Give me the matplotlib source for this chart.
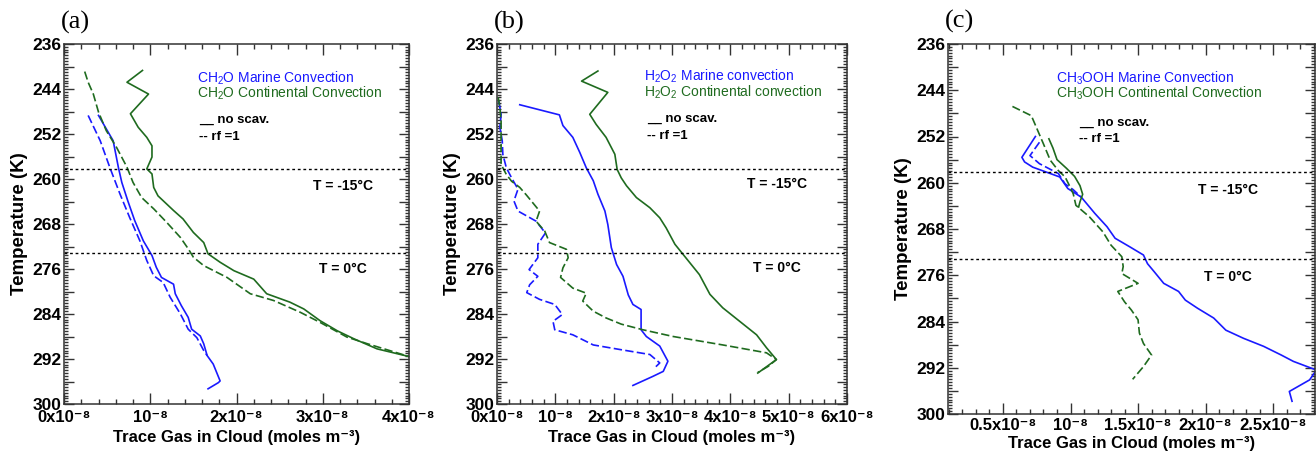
import matplotlib
matplotlib.use("Agg")
import matplotlib.pyplot as plt
from matplotlib.ticker import MultipleLocator, FixedLocator, FixedFormatter

plt.rcParams["font.family"] = ["Liberation Sans", "DejaVu Sans"]
plt.rcParams["font.weight"] = "bold"
plt.rcParams["mathtext.default"] = "regular"
plt.rcParams["axes.unicode_minus"] = False

BLUE = "#1a1aff"
GREEN = "#1f6b1f"

# concentrations are in units of 1e-8 moles m-3, temperatures in K
# panel (a) CH2O
a_mar_x = [0.40, 0.57, 0.63, 0.67, 0.74, 0.82, 0.92, 1.02, 1.07, 1.13, 1.27, 1.29, 1.36, 1.44,
           1.48, 1.58, 1.62, 1.66, 1.73, 1.81, 1.79, 1.67]
a_mar_T = [248.7, 253.2, 257.9, 260.6, 263.9, 267.4, 271.0, 273.6, 275.7, 277.5, 278.7, 280.4, 282.5, 284.6,
           286.7, 287.9, 289.3, 291.4, 292.9, 295.9, 296.2, 297.3]
a_mar_rf_x = [0.28, 0.42, 0.53, 0.65, 0.76, 0.88, 0.96, 1.04, 1.15, 1.23, 1.35, 1.44, 1.54, 1.62, 1.66]
a_mar_rf_T = [248.7, 253.2, 257.9, 262.7, 266.8, 271.0, 274.5, 277.2, 278.4, 281.0, 284.0, 286.7, 288.2, 290.5, 291.4]
a_con_x = [0.91, 0.73, 0.98, 0.77, 0.86, 0.96, 1.02, 1.02, 0.96, 1.02, 1.04, 1.09, 1.27, 1.38, 1.50,
           1.62, 1.67, 1.81, 1.97, 2.20, 2.35, 2.62, 2.78, 2.97, 3.17, 3.36, 3.63, 4.01, 4.20]
a_con_T = [240.7, 242.8, 244.9, 248.4, 250.8, 252.6, 254.1, 256.1, 258.2, 259.1, 261.5, 263.0, 265.6, 267.1, 269.5,
           271.3, 273.3, 274.8, 276.3, 277.8, 280.4, 281.9, 283.1, 285.2, 287.0, 288.4, 290.2, 291.6, 292.3]
a_con_rf_x = [0.24, 0.28, 0.34, 0.40, 0.49, 0.61, 0.73, 0.80, 0.90, 1.04, 1.19, 1.35, 1.44, 1.50, 1.62,
              1.89, 2.16, 2.43, 2.74, 2.97, 3.28, 3.52, 4.01, 4.20]
a_con_rf_T = [240.9, 242.8, 244.9, 248.1, 251.4, 254.4, 257.9, 260.6, 263.3, 265.3, 267.7, 270.4, 272.4, 273.9, 275.4,
              277.5, 280.4, 281.6, 283.7, 285.5, 288.1, 289.3, 291.6, 292.3]

# panel (b) H2O2
b_mar_x = [0.39, 1.07, 1.13, 1.30, 1.42, 1.53, 1.65, 1.73, 1.85, 1.90, 1.96, 2.05, 2.16, 2.25, 2.33,
           2.47, 2.47, 2.56, 2.79, 2.93, 2.85, 2.67, 2.33]
b_mar_T = [246.8, 248.6, 250.5, 252.6, 255.3, 258.0, 260.3, 262.7, 265.7, 268.1, 272.2, 275.2, 277.3, 280.6, 282.3,
           283.2, 286.8, 288.0, 289.7, 292.4, 294.2, 295.1, 296.7]
b_mar_rf_x = [0.03, 0.07, 0.05, 0.09, 0.10, 0.16, 0.25, 0.36, 0.29, 0.36, 0.67, 0.83, 0.70, 0.70, 0.55,
              0.70, 0.56, 0.51, 0.73, 0.99, 1.12, 0.96, 0.99, 1.30, 1.65, 2.10, 2.62, 2.79, 2.70]
b_mar_rf_T = [246.1, 248.5, 250.8, 253.2, 255.6, 258.0, 259.8, 261.8, 263.9, 265.7, 267.5, 269.6, 271.6, 274.0, 276.1,
              277.3, 278.8, 280.2, 281.4, 282.3, 284.1, 285.3, 286.8, 287.7, 289.5, 290.3, 291.2, 292.7, 293.6]
b_con_x = [1.73, 1.45, 1.90, 1.59, 1.70, 1.87, 2.02, 2.06, 2.13, 2.22, 2.39, 2.62, 2.79, 2.90, 3.05,
           3.19, 3.47, 3.65, 3.87, 4.16, 4.45, 4.62, 4.79, 4.67, 4.47]
b_con_T = [240.8, 242.6, 244.6, 248.5, 250.3, 252.6, 255.6, 258.3, 259.8, 261.2, 263.3, 265.1, 266.9, 268.7, 271.6,
           273.4, 277.0, 280.5, 282.9, 285.3, 287.7, 290.0, 292.1, 293.0, 294.5]
b_con_rf_x = [0.02, 0.05, 0.07, 0.07, 0.07, 0.07, 0.16, 0.25, 0.39, 0.50, 0.73, 0.67, 0.82, 0.90, 1.19,
              1.22, 1.13, 1.09, 1.30, 1.53, 1.47, 1.65, 1.87, 2.13, 2.50, 3.02, 3.87, 4.62, 4.79, 4.65, 4.47]
b_con_rf_T = [245.5, 247.3, 249.7, 252.6, 255.6, 257.4, 259.2, 260.4, 261.5, 262.8, 265.7, 267.5, 269.3, 271.3, 272.5,
              274.0, 275.8, 277.5, 279.4, 280.3, 281.7, 283.5, 284.7, 285.8, 286.8, 288.0, 289.5, 290.9, 292.1, 293.3, 294.4]

# panel (c) CH3OOH
c_mar_x = [0.74, 0.64, 0.66, 0.72, 0.92, 0.98, 1.08, 1.18, 1.27, 1.33, 1.44, 1.54, 1.57, 1.62, 1.69,
           1.80, 1.85, 1.94, 2.06, 2.15, 2.28, 2.43, 2.56, 2.65, 2.82, 2.77, 2.62, 2.64]
c_mar_T = [252.0, 255.6, 256.4, 257.3, 259.0, 261.0, 262.5, 265.3, 267.6, 269.6, 271.1, 272.5, 274.0, 275.4, 277.4,
           278.8, 280.3, 281.7, 283.4, 285.5, 286.9, 288.3, 289.8, 290.9, 292.4, 294.1, 296.1, 297.8]
c_mar_rf_x = [0.77, 0.70, 0.77, 0.91, 0.96, 1.02, 1.08]
c_mar_rf_T = [253.0, 255.3, 256.7, 258.4, 260.2, 261.2, 262.5]
c_con_x = [0.84, 0.87, 0.90, 0.97, 1.03, 1.07, 1.09, 1.07, 1.06]
c_con_T = [252.4, 254.0, 256.0, 257.5, 258.9, 260.5, 262.0, 263.3, 264.2]
c_con_rf_x = [0.57, 0.71, 0.80, 0.85, 0.91, 0.96, 0.99, 1.02, 1.04, 1.14, 1.24, 1.30, 1.38, 1.39, 1.38,
              1.50, 1.35, 1.40, 1.45, 1.50, 1.51, 1.54, 1.60, 1.54, 1.46]
c_con_rf_T = [246.8, 248.4, 253.3, 256.1, 257.9, 259.0, 260.4, 261.9, 263.9, 265.9, 268.5, 270.8, 272.8, 274.5, 275.7,
              277.4, 278.8, 280.6, 282.0, 283.7, 286.0, 287.8, 289.8, 291.8, 294.0]

freeze_T = [258.15, 273.15]

a_ticks = [0, 1, 2, 3, 4]
a_labels = ["0x10⁻⁸", "10⁻⁸", "2x10⁻⁸", "3x10⁻⁸", "4x10⁻⁸"]
b_ticks = [0, 1, 2, 3, 4, 5, 6]
b_labels = ["0x10⁻⁸", "10⁻⁸", "2x10⁻⁸", "3x10⁻⁸", "4x10⁻⁸", "5x10⁻⁸", "6x10⁻⁸"]
c_ticks = [0.5, 1.0, 1.5, 2.0, 2.5]
c_labels = ["0.5x10⁻⁸", "10⁻⁸", "1.5x10⁻⁸", "2x10⁻⁸", "2.5x10⁻⁸"]


def setup(ax, xlim, ticks, labels, minor, xpad=4, lpad=4):
    ax.set_xlim(*xlim)
    ax.set_ylim(300, 236)
    ax.xaxis.set_major_locator(FixedLocator(ticks))
    ax.xaxis.set_major_formatter(FixedFormatter(labels))
    ax.xaxis.set_minor_locator(MultipleLocator(minor))
    ax.yaxis.set_major_locator(MultipleLocator(4))
    ax.yaxis.set_minor_locator(MultipleLocator(0.5))
    ax.yaxis.set_major_formatter(plt.FuncFormatter(lambda v, p: "%d" % v if round(v) % 8 == 4 else ""))
    ax.tick_params(which="both", direction="in", top=True, right=True, width=1.0, color="#333333")
    ax.tick_params(axis="x", which="major", length=8, labelsize=12, pad=xpad)
    ax.tick_params(axis="x", which="minor", length=3.5)
    ax.tick_params(axis="y", which="major", length=7, labelsize=12.5, pad=2)
    ax.tick_params(axis="y", which="minor", length=3)
    for s in ax.spines.values():
        s.set_linewidth(1.1)
        s.set_color("#333333")
    for t in freeze_T:
        ax.axhline(t, color="black", lw=1.0, ls=(0, (2, 2)))
    ax.set_xlabel("Trace Gas in Cloud (moles m⁻³)", fontsize=12, fontweight="bold", labelpad=lpad)
    ax.set_ylabel("Temperature (K)", fontsize=13.5, fontweight="bold", labelpad=3)


def add_text(ax, leg1, leg2, pos):
    lx, ly1, ly2, nx, ny1, ny2, tx, ty1, ty2 = pos
    ax.text(lx, ly1, leg1, color=BLUE, fontsize=10, fontweight="normal", transform=ax.transAxes, va="center")
    ax.text(lx, ly2, leg2, color=GREEN, fontsize=10, fontweight="normal", transform=ax.transAxes, va="center")
    ax.text(nx, ny1, "__ no scav.", fontsize=9.5, transform=ax.transAxes, va="center")
    ax.text(nx, ny2, "-- rf =1", fontsize=9.5, transform=ax.transAxes, va="center")
    ax.text(tx, ty1, "T = -15\u00b0C", fontsize=10, transform=ax.transAxes, ha="center", va="center")
    ax.text(tx, ty2, "T = 0\u00b0C", fontsize=10, transform=ax.transAxes, ha="center", va="center")


fig = plt.figure(figsize=(13.16, 4.51), dpi=100)
ax_a = fig.add_axes([64 / 1316, 1 - 404 / 451, 345 / 1316, 360 / 451])
ax_b = fig.add_axes([497 / 1316, 1 - 404 / 451, 350 / 1316, 360 / 451])
ax_c = fig.add_axes([948 / 1316, 1 - 414 / 451, 367 / 1316, 370 / 451])

dash = (0, (5, 2))

ax_a.plot(a_mar_x, a_mar_T, color=BLUE, lw=1.2)
ax_a.plot(a_mar_rf_x, a_mar_rf_T, color=BLUE, lw=1.2, ls=dash)
ax_a.plot(a_con_x, a_con_T, color=GREEN, lw=1.2)
ax_a.plot(a_con_rf_x, a_con_rf_T, color=GREEN, lw=1.2, ls=dash)
setup(ax_a, (0, 4), a_ticks, a_labels, 0.2)
add_text(ax_a, "CH$_2$O Marine Convection", "CH$_2$O Continental Convection",
         (0.386, 0.906, 0.862, 0.391, 0.789, 0.742, 0.809, 0.606, 0.375))

ax_b.plot(b_mar_x, b_mar_T, color=BLUE, lw=1.2)
ax_b.plot(b_mar_rf_x, b_mar_rf_T, color=BLUE, lw=1.2, ls=dash)
ax_b.plot(b_con_x, b_con_T, color=GREEN, lw=1.2)
ax_b.plot(b_con_rf_x, b_con_rf_T, color=GREEN, lw=1.2, ls=dash)
setup(ax_b, (0, 6), b_ticks, b_labels, 0.2)
add_text(ax_b, "H$_2$O$_2$ Marine convection", "H$_2$O$_2$ Continental convection",
         (0.42, 0.910, 0.865, 0.429, 0.792, 0.744, 0.80, 0.611, 0.378))

ax_c.plot(c_mar_x, c_mar_T, color=BLUE, lw=1.2)
ax_c.plot(c_mar_rf_x, c_mar_rf_T, color=BLUE, lw=1.2, ls=dash)
ax_c.plot(c_con_x, c_con_T, color=GREEN, lw=1.2)
ax_c.plot(c_con_rf_x, c_con_rf_T, color=GREEN, lw=1.2, ls=dash)
setup(ax_c, (0.093, 2.81), c_ticks, c_labels, 0.1, xpad=3, lpad=2)
add_text(ax_c, "CH$_3$OOH Marine Convection", "CH$_3$OOH Continental Convection",
         (0.294, 0.908, 0.866, 0.357, 0.787, 0.744, 0.763, 0.606, 0.369))

for ax, lab in [(ax_a, "(a)"), (ax_b, "(b)"), (ax_c, "(c)")]:
    ax.text(-0.008, 1.06, lab, transform=ax.transAxes, fontsize=19, fontweight="normal",
            family="Liberation Serif", va="center", ha="left")

fig.savefig("out.png", dpi=100)
